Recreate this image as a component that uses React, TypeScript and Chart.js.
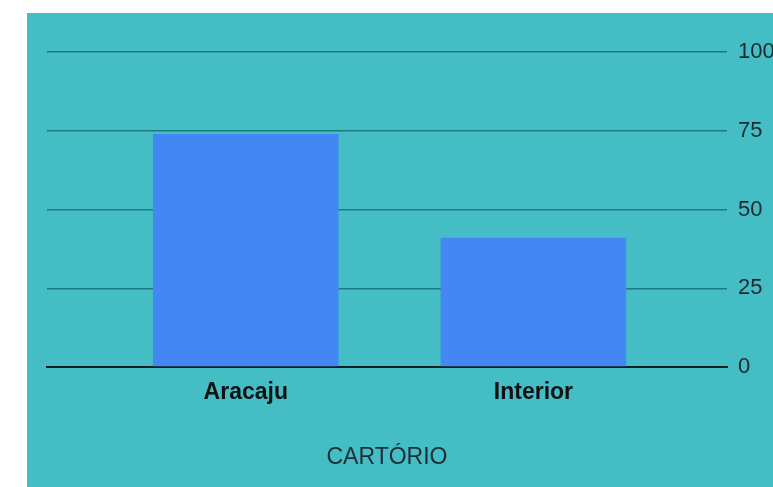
import React, { useEffect, useRef } from "react";
import { Chart, registerables } from "chart.js";

Chart.register(...registerables);

const categories = ["Aracaju", "Interior"];
const values = [74, 41];
const yTicks = [0, 25, 50, 75, 100];
const xTitle = "CARTÓRIO";

const FONT = "'Liberation Sans', Arial, sans-serif";

export default function App() {
  const ref = useRef<HTMLCanvasElement | null>(null);

  useEffect(() => {
    if (!ref.current) return;
    const chart = new Chart(ref.current, {
      type: "bar",
      data: {
        datasets: [
          {
            data: values.map((v, i) => ({ x: i, y: v })),
            backgroundColor: "#4387f4",
            borderWidth: 0,
            barPercentage: 0.645,
            categoryPercentage: 1,
          },
        ],
      },
      options: {
        responsive: false,
        animation: false,
        layout: { padding: { left: 20, top: 39, right: 0, bottom: 0 } },
        plugins: { legend: { display: false }, tooltip: { enabled: false } },
        scales: {
          x: {
            type: "linear",
            offset: false,
            min: -0.691,
            max: 1.673,
            afterBuildTicks: (scale: any) => {
              scale.ticks = categories.map((_, i) => ({ value: i }));
            },
            afterFit: (scale: any) => {
              scale.height = 120;
            },
            grid: { display: false, drawTicks: false, offset: false },
            border: { display: true, color: "#0d1f24", width: 2 },
            ticks: {
              autoSkip: false,
              maxRotation: 0,
              padding: 12,
              color: "#111",
              font: { family: FONT, size: 23, weight: "bold" },
              callback: (v: any) => categories[Number(v)] ?? "",
            },
            title: {
              display: true,
              text: xTitle,
              color: "#1c2f36",
              font: { family: FONT, size: 23 },
              padding: { top: 0, bottom: 16 },
            },
          },
          y: {
            position: "right",
            min: 0,
            max: 100,
            afterBuildTicks: (scale: any) => {
              scale.ticks = yTicks.map((v) => ({ value: v }));
            },
            afterFit: (scale: any) => {
              scale.width = 90;
            },
            grid: { color: "#1d7a80", lineWidth: 1.4, drawTicks: false },
            border: { display: false },
            ticks: {
              padding: 11,
              color: "#1c2a30",
              font: { family: FONT, size: 22 },
            },
          },
        },
      },
    });
    return () => chart.destroy();
  }, []);

  return (
    <div
      style={{
        position: "fixed",
        left: 27,
        top: 13,
        width: 746,
        height: 474,
        overflow: "hidden",
        background: "#45bdc5",
      }}
    >
      <canvas ref={ref} width={790} height={474} style={{ display: "block" }} />
    </div>
  );
}
